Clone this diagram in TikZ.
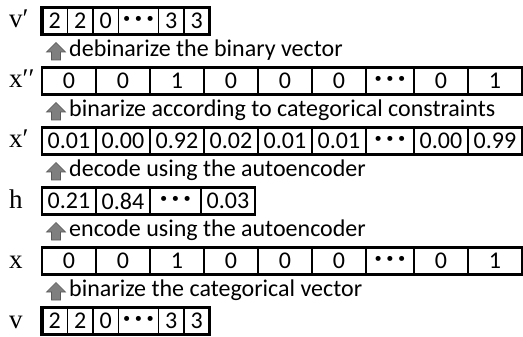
\documentclass[tikz,border=0pt]{standalone}
\usepackage{fontspec}
\setmainfont{Carlito}
\newfontfamily\varfont{Liberation Serif}
\usetikzlibrary{positioning}
\definecolor{arrowgray}{HTML}{7F7F7F}
\definecolor{arrowedge}{HTML}{595959}
\tikzset{
  cell/.style={rectangle, draw=black, line width=1.7pt, outer sep=0pt, inner sep=0pt,
               minimum height=27pt, minimum width=54pt, font=\fontsize{24}{24}\selectfont},
  dotcell/.style={cell, minimum width=48pt, font=\fontsize{27}{27}\selectfont\bfseries},
  catcell/.style={cell, line width=1.5pt, minimum width=25.5pt},
  catdots/.style={catcell, minimum width=40pt, font=\fontsize{27}{27}\selectfont\bfseries},
  outer/.style={draw=black, line width=2.5pt},
  outercat/.style={draw=black, line width=3.4pt},
  varlbl/.style={anchor=base west, inner sep=0pt, font=\varfont\fontsize{27}{27}\selectfont},
  uparrow/.style={draw=arrowedge, fill=arrowgray, line width=0.7pt, line join=miter},
  stepnote/.style={anchor=west, inner sep=0pt, text height=16pt, text depth=5pt,
                   font=\fontsize{24}{24}\selectfont},
}
% block arrow pointing up, drawn around a coordinate
\newcommand{\uparr}[1]{\draw[uparrow] (#1) ++(-4.5,9) -- ++(0,-8) -- ++(-5,0) -- ++(9.5,-9.5)
  -- ++(9.5,9.5) -- ++(-5,0) -- ++(0,8) -- cycle;}
\begin{document}
\begin{tikzpicture}[x=1pt, y=-1pt]
  \useasboundingbox (0,0) rectangle (523,337);

  % v' (debinarized)
  \node[varlbl] (lvp) at (9,28) {v′};
  \node[catcell, anchor=west] (vp1) at (42,21) {2};
  \node[catcell, right=0pt of vp1] (vp2) {2};
  \node[catcell, right=0pt of vp2] (vp3) {0};
  \node[catdots, right=0pt of vp3] (vp4) {·\,·\,·};
  \node[catcell, right=0pt of vp4] (vp5) {3};
  \node[catcell, right=0pt of vp5] (vp6) {3};
  \draw[outercat] (vp1.north west) rectangle (vp6.south east);

  \coordinate (arr1) at (56,51);
  \uparr{arr1}
  \node[stepnote, right=13pt of arr1] (note1) {debinarize the binary vector};

  % x'' (binarized)
  \node[varlbl] (lxpp) at (9,88) {x′′};
  \node[cell, anchor=west] (xpp1) at (42,81) {0};
  \node[cell, right=0pt of xpp1] (xpp2) {0};
  \node[cell, right=0pt of xpp2] (xpp3) {1};
  \node[cell, right=0pt of xpp3] (xpp4) {0};
  \node[cell, right=0pt of xpp4] (xpp5) {0};
  \node[cell, right=0pt of xpp5] (xpp6) {0};
  \node[dotcell, right=0pt of xpp6] (xpp7) {·\,·\,·};
  \node[cell, right=0pt of xpp7] (xpp8) {0};
  \node[cell, right=0pt of xpp8] (xpp9) {1};
  \draw[outer] (xpp1.north west) rectangle (xpp9.south east);

  \coordinate (arr2) at (56,111);
  \uparr{arr2}
  \node[stepnote, right=13pt of arr2] (note2) {binarize according to categorical constraints};

  % x' (decoded)
  \node[varlbl] (lxp) at (9,148) {x′};
  \node[cell, anchor=west] (xp1) at (42,141) {0.01};
  \node[cell, right=0pt of xp1] (xp2) {0.00};
  \node[cell, right=0pt of xp2] (xp3) {0.92};
  \node[cell, right=0pt of xp3] (xp4) {0.02};
  \node[cell, right=0pt of xp4] (xp5) {0.01};
  \node[cell, right=0pt of xp5] (xp6) {0.01};
  \node[dotcell, right=0pt of xp6] (xp7) {·\,·\,·};
  \node[cell, right=0pt of xp7] (xp8) {0.00};
  \node[cell, right=0pt of xp8] (xp9) {0.99};
  \draw[outer] (xp1.north west) rectangle (xp9.south east);

  \coordinate (arr3) at (56,171);
  \uparr{arr3}
  \node[stepnote, right=13pt of arr3] (note3) {decode using the autoencoder};

  % h (code)
  \node[varlbl] (lh) at (9,208) {h};
  \node[cell, anchor=west] (h1) at (42,201) {0.21};
  \node[cell, right=0pt of h1] (h2) {0.84};
  \node[dotcell, right=0pt of h2, minimum width=51pt] (h3) {·\,·\,·};
  \node[cell, right=0pt of h3] (h4) {0.03};
  \draw[outer] (h1.north west) rectangle (h4.south east);

  \coordinate (arr4) at (56,231);
  \uparr{arr4}
  \node[stepnote, right=13pt of arr4] (note4) {encode using the autoencoder};

  % x (binary)
  \node[varlbl] (lx) at (9,268) {x};
  \node[cell, anchor=west] (x1) at (42,261) {0};
  \node[cell, right=0pt of x1] (x2) {0};
  \node[cell, right=0pt of x2] (x3) {1};
  \node[cell, right=0pt of x3] (x4) {0};
  \node[cell, right=0pt of x4] (x5) {0};
  \node[cell, right=0pt of x5] (x6) {0};
  \node[dotcell, right=0pt of x6] (x7) {·\,·\,·};
  \node[cell, right=0pt of x7] (x8) {0};
  \node[cell, right=0pt of x8] (x9) {1};
  \draw[outer] (x1.north west) rectangle (x9.south east);

  \coordinate (arr5) at (56,291);
  \uparr{arr5}
  \node[stepnote, right=13pt of arr5] (note5) {binarize the categorical vector};

  % v (categorical)
  \node[varlbl] (lv) at (9,328) {v};
  \node[catcell, anchor=west] (v1) at (42,321) {2};
  \node[catcell, right=0pt of v1] (v2) {2};
  \node[catcell, right=0pt of v2] (v3) {0};
  \node[catdots, right=0pt of v3] (v4) {·\,·\,·};
  \node[catcell, right=0pt of v4] (v5) {3};
  \node[catcell, right=0pt of v5] (v6) {3};
  \draw[outercat] (v1.north west) rectangle (v6.south east);
\end{tikzpicture}
\end{document}
